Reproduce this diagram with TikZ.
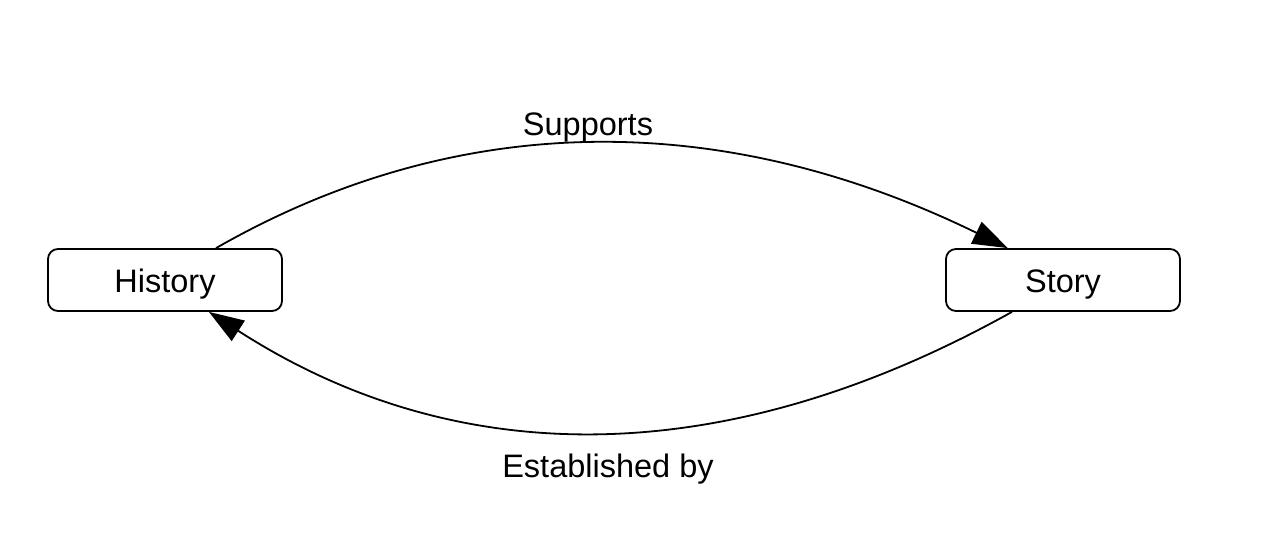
\documentclass[tikz,border=0pt]{standalone}
\usepackage{fontspec}
\setmainfont{Liberation Sans}
\usetikzlibrary{arrows.meta}
\begin{document}
\begin{tikzpicture}[x=1pt,y=1pt,
  box/.style={draw, line width=1.8pt, rounded corners=10pt, minimum width=234pt, minimum height=62pt, inner sep=0pt, text height=26pt, text depth=0pt, font=\fontsize{32.5}{38}\selectfont},
  conn/.style={line width=1.8pt, -{Triangle[length=35pt,width=24pt]}},
  lbl/.style={font=\fontsize{32.5}{38}\selectfont, inner sep=0pt}]
\useasboundingbox (0,0) rectangle (1268,554);
\node[box] (hist) at (165,274) {History};
\node[box] (story) at (1063,274) {Story};
\draw[conn] (hist.32) .. controls (459,445) and (723,445) .. (story.150.7);
\draw[conn] (story.212) .. controls (725,82) and (457,82) .. (hist.324.6);
\node[lbl] (sup) at (588,426) {Supports};
\node[lbl] (est) at (608,85) {Established by};
\end{tikzpicture}
\end{document}
